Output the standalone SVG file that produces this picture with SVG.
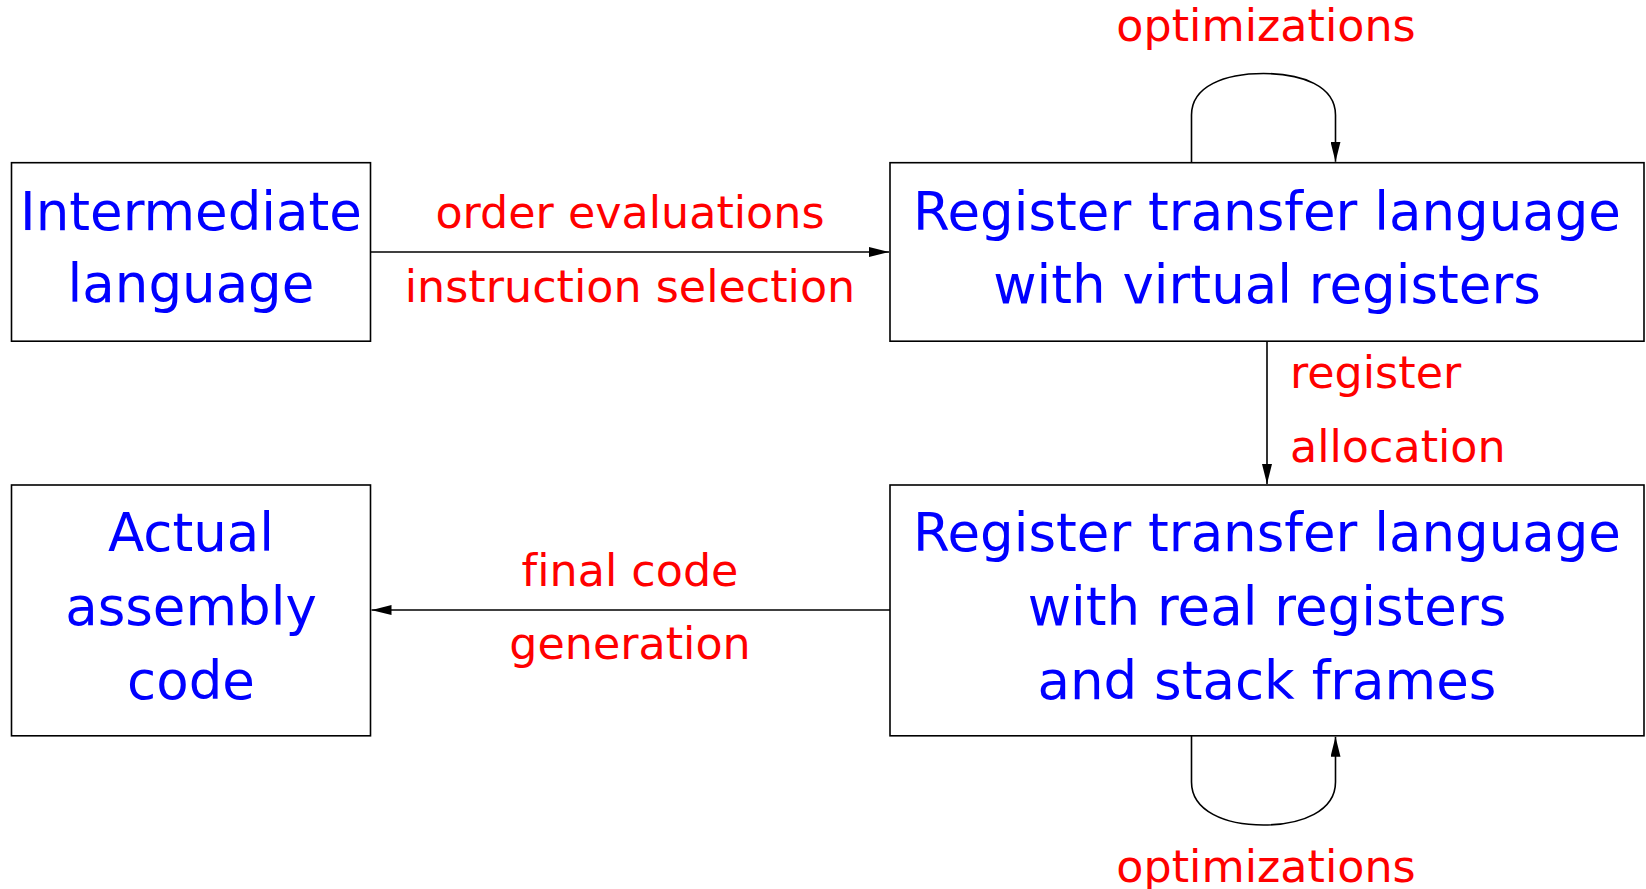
<svg xmlns="http://www.w3.org/2000/svg" width="1646" height="889" viewBox="0 0 1646 889">
  <style>
    .box { fill: #ffffff; stroke: #000000; stroke-width: 1.6; }
    .node { font-family: "DejaVu Sans", sans-serif; font-size: 53px; fill: #0000ff; text-anchor: middle; font-variant-ligatures: none; }
    .lbl { font-family: "DejaVu Sans", sans-serif; font-size: 44.4px; fill: #ff0000; font-variant-ligatures: none; }
    .mid { text-anchor: middle; }
    .edge { fill: none; stroke: #000000; stroke-width: 1.6; }
  </style>
  <defs>
    <marker id="arrow" viewBox="0 0 20 10" refX="20" refY="5" markerWidth="20" markerHeight="10" markerUnits="userSpaceOnUse" orient="auto">
      <path d="M0,0 L20,5 L0,10 Z" fill="#000000"/>
    </marker>
  </defs>
  <rect width="1646" height="889" fill="#ffffff"/>

  <g id="connectors">
    <path class="edge" d="M370.5,252 H889" marker-end="url(#arrow)"/>
    <path class="edge" d="M1267,341.2 V484" marker-end="url(#arrow)"/>
    <path class="edge" d="M890,610 H371.5" marker-end="url(#arrow)"/>
    <path class="edge" d="M1191.5,162.7 V115 C1191.5,86 1225,73.5 1263.5,73.5 C1302,73.5 1335.5,86 1335.5,115 V161.7" marker-end="url(#arrow)"/>
    <path class="edge" d="M1191.5,735.8 V782 C1191.5,811 1225,825 1263.5,825 C1302,825 1335.5,811 1335.5,782 V736.8" marker-end="url(#arrow)"/>
    <text class="lbl mid" x="630" y="228">order evaluations</text>
    <text class="lbl mid" x="630" y="302">instruction selection</text>
    <text class="lbl" x="1290" y="388">register</text>
    <text class="lbl" x="1290" y="462">allocation</text>
    <text class="lbl mid" x="630" y="586">final code</text>
    <text class="lbl mid" x="630" y="659">generation</text>
    <text class="lbl mid" x="1266" y="41">optimizations</text>
    <text class="lbl mid" x="1266" y="882">optimizations</text>
  </g>

  <g id="intermediate">
    <rect class="box" x="11.5" y="162.7" width="359" height="178.5"/>
    <text class="node" x="191" y="230">Intermediate</text>
    <text class="node" x="191" y="302">language</text>
  </g>

  <g id="rtl-virtual">
    <rect class="box" x="890" y="162.7" width="754" height="178.5"/>
    <text class="node" x="1267" y="230">Register transfer language</text>
    <text class="node" x="1267" y="303">with virtual registers</text>
  </g>

  <g id="assembly">
    <rect class="box" x="11.5" y="485" width="359" height="250.8"/>
    <text class="node" x="191" y="551">Actual</text>
    <text class="node" x="191" y="625">assembly</text>
    <text class="node" x="191" y="699">code</text>
  </g>

  <g id="rtl-real">
    <rect class="box" x="890" y="485" width="754" height="250.8"/>
    <text class="node" x="1267" y="551">Register transfer language</text>
    <text class="node" x="1267" y="625">with real registers</text>
    <text class="node" x="1267" y="699">and stack frames</text>
  </g>
</svg>
